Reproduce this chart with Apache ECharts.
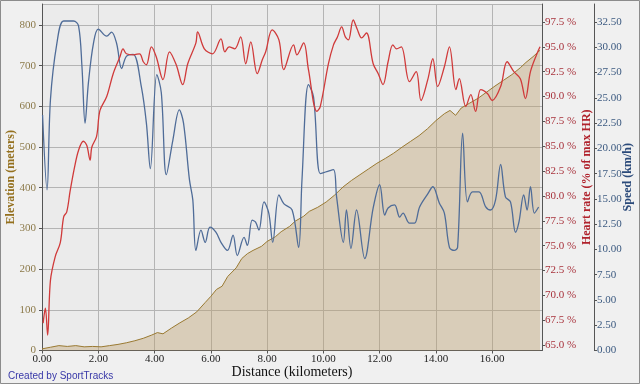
<!DOCTYPE html>
<html><head><meta charset="utf-8">
<script src="https://cdn.jsdelivr.net/npm/echarts@6/dist/echarts.min.js"></script>
<style>html,body{margin:0;padding:0;background:#F0F0F0}#c{width:640px;height:384px}</style>
</head><body><div id="c"></div>
<script>
// ---- data ----
const distTicks = [0, 2, 4, 6, 8, 10, 12, 14, 16];
const elevTicks = [0, 100, 200, 300, 400, 500, 600, 700, 800];
const hrTicks = [65, 67.5, 70, 72.5, 75, 77.5, 80, 82.5, 85, 87.5, 90, 92.5, 95, 97.5];
const speedTicks = [0, 2.5, 5, 7.5, 10, 12.5, 15, 17.5, 20, 22.5, 25, 27.5, 30, 32.5];

const elevDist = [0,0.3,0.6,0.9,1.2,1.5,1.8,2.1,2.4,2.7,3.0,3.3,3.6,3.9,4.1,4.3,4.6,4.9,5.2,5.5,5.8,6.0,6.2,6.4,6.6,6.9,7.1,7.3,7.5,7.8,8.0,8.3,8.5,8.8,9.0,9.3,9.5,9.8,10.1,10.4,10.7,11.0,11.3,11.6,11.9,12.2,12.5,12.8,13.1,13.4,13.7,14.0,14.3,14.5,14.7,14.9,15.2,15.5,15.8,16.1,16.4,16.7,17.0,17.2,17.45,17.7];
const elevVals = [4,8,12,10,12,9,10,9,12,15,19,24,30,38,44,41,55,68,80,95,118,133,150,158,182,203,226,238,246,256,268,280,292,305,318,330,342,352,365,382,402,418,432,446,460,472,485,500,514,528,545,565,582,590,578,596,608,620,635,650,664,678,695,708,722,738];

const hrDist = [0.04,0.12,0.2,0.3,0.47,0.65,0.77,0.88,1.0,1.15,1.3,1.47,1.59,1.71,1.77,1.94,2.06,2.3,2.53,2.77,2.88,3.0,3.24,3.47,3.6,3.71,3.89,4.06,4.3,4.53,4.77,5.0,5.18,5.47,5.53,5.77,6.06,6.36,6.5,6.65,6.85,7.06,7.24,7.42,7.65,7.83,7.95,8.18,8.42,8.59,8.94,9.06,9.3,9.47,9.77,9.89,10.18,10.36,10.5,10.65,10.78,10.89,11.06,11.2,11.36,11.53,11.77,11.95,12.12,12.3,12.47,12.6,12.77,13.06,13.3,13.47,13.71,13.89,14.06,14.3,14.48,14.71,14.83,15.06,15.24,15.41,15.59,15.83,16.0,16.3,16.53,16.77,17.0,17.18,17.36,17.59,17.7];
const hrVals = [67.2,68.7,66.0,71.5,73.9,75.3,77.9,78.4,80.5,82.8,84.6,85.5,85.1,83.6,84.9,86.0,88.6,90.0,92.3,94.0,94.8,94.3,94.2,94.3,93.5,93.2,95.0,94.0,91.7,94.5,93.2,91.2,93.3,95.4,96.5,94.8,94.3,95.8,94.5,95.0,94.8,96.0,93.3,95.5,92.3,93.7,94.5,96.7,95.7,92.7,95.2,94.2,95.4,92.7,88.5,89.0,93.3,95.2,96.0,97.0,96.0,95.7,97.7,96.8,95.9,96.4,93.3,92.3,91.2,93.5,95.2,94.8,95.0,91.5,92.5,89.6,91.7,93.8,91.0,93.0,95.0,90.7,91.8,89.0,90.2,88.5,90.7,90.3,89.6,91.0,93.5,92.5,91.8,89.8,92.5,94.3,95.0];

const speedDist = [0.02,0.18,0.3,0.53,0.77,1.12,1.3,1.42,1.53,1.65,1.83,2.0,2.3,2.47,2.65,2.83,3.0,3.24,3.53,3.71,3.85,4.08,4.24,4.42,4.65,4.88,5.03,5.24,5.36,5.47,5.65,5.8,5.97,6.18,6.36,6.59,6.79,6.94,7.18,7.3,7.47,7.59,7.71,7.89,8.06,8.2,8.42,8.6,8.89,9.12,9.24,9.47,9.65,9.89,10.12,10.36,10.47,10.71,10.82,10.98,11.18,11.47,11.77,12.0,12.18,12.3,12.53,12.71,12.83,13.06,13.24,13.42,13.71,13.89,14.12,14.3,14.48,14.65,14.77,14.95,15.12,15.3,15.53,15.77,15.94,16.12,16.3,16.47,16.65,16.83,16.95,17.12,17.24,17.36,17.5,17.65];
const speedVals = [23.3,15.9,24.8,30.4,32.6,32.6,32.1,28.1,22.5,26.5,30.4,31.8,31.1,31.5,30.4,27.9,29.1,29.3,26.1,22.5,18.0,27.3,25.5,17.4,20.8,23.8,22.5,16.9,14.9,9.9,11.9,10.7,12.2,11.7,10.7,9.9,11.4,9.4,11.2,10.4,12.9,12.7,11.9,14.7,13.6,10.7,15.4,14.5,13.9,10.2,16.9,26.3,25.1,17.5,17.7,17.9,15.2,10.7,13.9,10.1,13.9,9.1,14.1,16.4,13.4,14.1,14.4,13.2,13.6,12.6,12.6,14.2,15.5,16.2,14.6,13.6,10.2,9.9,10.2,21.5,14.7,15.7,15.7,14.2,13.9,14.9,18.4,15.2,14.7,11.7,12.7,15.4,13.9,16.2,13.6,14.2];

const zip = (a, b) => a.map((x, i) => [x, b[i]]);

const serif = '"Liberation Serif", "DejaVu Serif", serif';
const chart = echarts.init(document.getElementById('c'), null, {renderer: 'canvas'});
chart.setOption({
  animation: false,
  backgroundColor: '#F0F0F0',
  grid: {left: 42, right: 98, top: 4, bottom: 33.5, show: true, backgroundColor: '#EBEBEB', borderWidth: 0, containLabel: false, outerBoundsMode: 'none'},
  graphic: [
    {type: 'rect', shape: {x: 0.5, y: 0.5, width: 639, height: 383}, style: {fill: 'none', stroke: '#8C8C8C', lineWidth: 1}, silent: true},
    {type: 'text', left: 8, top: 371, style: {text: 'Created by SportTracks', fill: '#3838A8', font: '10px "Liberation Sans", Arial, sans-serif'}}
  ],
  xAxis: {
    type: 'value', min: 0, max: 17.77, interval: 2,
    name: 'Distance (kilometers)', nameLocation: 'middle', nameGap: 15, nameMoveOverlap: false,
    nameTextStyle: {fontFamily: serif, fontSize: 14, color: '#111'},
    axisLine: {show: true, lineStyle: {color: '#555', width: 1}},
    axisTick: {show: true, length: 3, lineStyle: {color: '#555'}},
    axisLabel: {showMaxLabel: false, margin: 3, fontFamily: serif, fontSize: 11, color: '#222', formatter: v => v.toFixed(2)},
    splitLine: {show: true, lineStyle: {color: '#B4B4B4', width: 1}}
  },
  yAxis: [
    {
      type: 'value', position: 'left', offset: 3, min: 0, max: 851.6, interval: 100,
      name: 'Elevation (meters)', nameLocation: 'middle', nameGap: 22, nameRotate: 90, nameMoveOverlap: false,
      nameTextStyle: {fontFamily: serif, fontSize: 12, fontWeight: 'bold', color: '#94701E'},
      axisLine: {show: true, lineStyle: {color: '#555', width: 1}},
      axisTick: {show: true, length: 3, lineStyle: {color: '#555'}},
      axisLabel: {showMaxLabel: false, margin: 3, fontFamily: serif, fontSize: 11, color: '#8C7A4A'},
      splitLine: {show: true, lineStyle: {color: '#B4B4B4', width: 1}}
    },
    {
      type: 'value', position: 'right', offset: 0, min: 64.45, max: 99.31,
      name: 'Heart rate (% of max HR)', nameLocation: 'middle', nameGap: 39, nameRotate: 90, nameMoveOverlap: false,
      nameTextStyle: {fontFamily: serif, fontSize: 12, fontWeight: 'bold', color: '#B0222C'},
      axisLine: {show: true, lineStyle: {color: '#555', width: 1}},
      axisTick: {show: true, length: 3, customValues: hrTicks, lineStyle: {color: '#555'}},
      axisLabel: {customValues: hrTicks, margin: 3, fontFamily: serif, fontSize: 11, color: '#A8323C', formatter: v => v.toFixed(1) + ' %'},
      splitLine: {show: false}
    },
    {
      type: 'value', position: 'right', offset: 52, min: 0, max: 34.28,
      name: 'Speed (km/h)', nameLocation: 'middle', nameGap: 28, nameRotate: 90, nameMoveOverlap: false,
      nameTextStyle: {fontFamily: serif, fontSize: 12, fontWeight: 'bold', color: '#2B4A7A'},
      axisLine: {show: true, lineStyle: {color: '#555', width: 1}},
      axisTick: {show: true, length: 3, customValues: speedTicks, lineStyle: {color: '#555'}},
      axisLabel: {customValues: speedTicks, margin: 3, fontFamily: serif, fontSize: 11, color: '#3C5A80', formatter: v => v.toFixed(2)},
      splitLine: {show: false}
    }
  ],
  series: [
    {
      name: 'Elevation', type: 'line', yAxisIndex: 0, data: zip(elevDist, elevVals),
      showSymbol: false, symbol: 'none', z: 1,
      lineStyle: {color: '#9A7A32', width: 1},
      areaStyle: {color: 'rgba(187,157,105,0.55)'}
    },
    {
      name: 'Speed', type: 'line', yAxisIndex: 2, data: zip(speedDist, speedVals),
      showSymbol: false, symbol: 'none', smooth: 0.35, z: 3,
      lineStyle: {color: '#4F6C98', width: 1.3}
    },
    {
      name: 'Heart rate', type: 'line', yAxisIndex: 1, data: zip(hrDist, hrVals),
      showSymbol: false, symbol: 'none', smooth: 0.35, z: 4,
      lineStyle: {color: '#D03A3A', width: 1.3}
    }
  ]
});
</script></body></html>
